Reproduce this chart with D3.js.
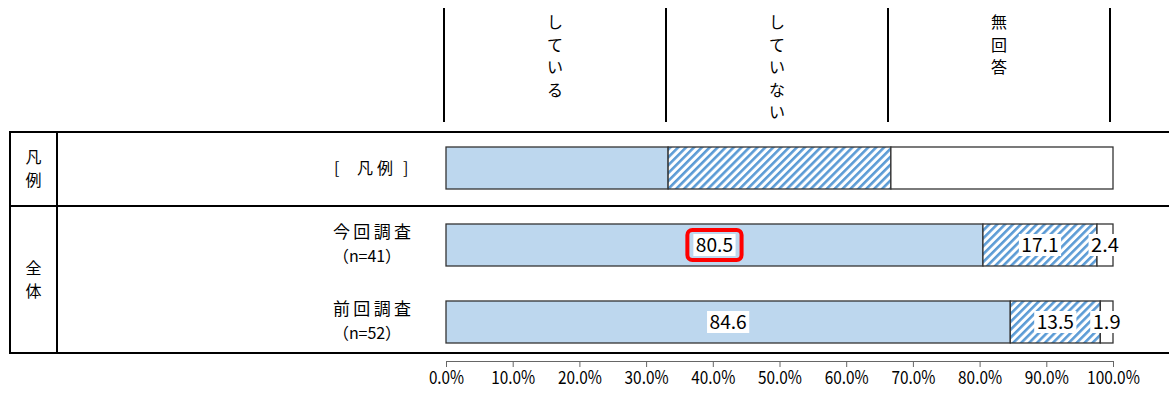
<!DOCTYPE html>
<html><head><meta charset="utf-8">
<script src="https://cdn.jsdelivr.net/npm/d3@7"></script>
<style>
html,body{margin:0;padding:0;background:#fff;}
svg{display:block;font-family:"Noto Sans CJK JP","Noto Sans",sans-serif;}
</style></head>
<body><svg id="c" width="1169" height="394"></svg>
<script>
const categories = ["している","していない","無回答"];
const rowLabels = ["今回調査","前回調査"];
const rowN = ["（n=41）","（n=52）"];
const current = [80.5, 17.1, 2.4];
const previous = [84.6, 13.5, 1.9];
const legendValues = [33.3, 33.4, 33.3];
const tickValues = [0,10,20,30,40,50,60,70,80,90,100];
const tickLabels = ["0.0%","10.0%","20.0%","30.0%","40.0%","50.0%","60.0%","70.0%","80.0%","90.0%","100.0%"];
const groupLabels = ["凡例","全体"];
const highlighted = {row:0, seg:0};

const svg = d3.select("#c");
const x = d3.scaleLinear().domain([0,100]).range([446,1113]);
const header = d3.scaleBand().domain(categories).range([444,1110]);
const rows = ["legend", ...rowLabels];
const y = d3.scalePoint().domain(rows).range([168,322]);
const barH = 42;
const fills = ["#BDD7EE","url(#hatch)","#ffffff"];

const defs = svg.append("defs");
const pat = defs.append("pattern").attr("id","hatch").attr("patternUnits","userSpaceOnUse")
  .attr("width",5.6).attr("height",5.6).attr("patternTransform","rotate(45)");
pat.append("rect").attr("width",5.6).attr("height",5.6).attr("fill","#fff");
pat.append("rect").attr("width",2.6).attr("height",5.6).attr("fill","#5B9BD5");

// header lines
const hb = [...categories.map(c=>header(c)), header.range()[1]];
svg.selectAll("line.hdr").data(hb).join("line").attr("class","hdr")
  .attr("x1",d=>d).attr("x2",d=>d).attr("y1",8).attr("y2",122)
  .attr("stroke","#000").attr("stroke-width",2);
// header vertical text
categories.forEach((c,i)=>{
  const cx = header(c)+header.bandwidth()/2;
  const t = svg.append("text").attr("font-size",16).attr("text-anchor","middle").attr("fill","#000");
  Array.from(c).forEach((ch,j)=>{
    t.append("tspan").attr("x",cx).attr("y",28+j*22.5).text(ch);
  });
});

// table
const tL = 10, tR = 1169, tTop = 132, tMid = 206, tBot = 353, tCol = 57;
[tTop,tMid,tBot].forEach(yy=>svg.append("line").attr("x1",tL).attr("x2",tR).attr("y1",yy).attr("y2",yy)
  .attr("stroke","#000").attr("stroke-width",2));
[tL,tCol].forEach(xx=>svg.append("line").attr("x1",xx).attr("x2",xx).attr("y1",tTop-1).attr("y2",tBot+1)
  .attr("stroke","#000").attr("stroke-width",2));

// group labels
[[groupLabels[0],(tTop+tMid)/2],[groupLabels[1],(tMid+tBot)/2]].forEach(([g,cy])=>{
  const t = svg.append("text").attr("font-size",16).attr("text-anchor","middle");
  Array.from(g).forEach((ch,j)=>t.append("tspan").attr("x",33.5).attr("y",cy-6+j*23).text(ch));
});

// row labels
const lt = svg.append("text").attr("y",y("legend")+6).attr("font-size",16);
lt.append("tspan").attr("x",334).text("[");
lt.append("tspan").attr("x",357).attr("textLength",36).attr("lengthAdjust","spacing").text("凡例");
lt.append("tspan").attr("x",403).text("]");
rowLabels.forEach((r,i)=>{
  svg.append("text").attr("x",333).attr("y",y(r)-7).attr("font-size",17)
    .attr("textLength",78).attr("lengthAdjust","spacing").text(r);
  svg.append("text").attr("x",333).attr("y",y(r)+17).attr("font-size",16)
    .attr("textLength",68).attr("lengthAdjust","spacing").text(rowN[i]);
});

function stack(vals){let acc=0;return vals.map((v,i)=>{const s={x0:acc,x1:acc+v,v,i};acc+=v;return s;});}

// legend bar
svg.append("g").selectAll("rect").data(stack(legendValues)).join("rect")
  .attr("x",d=>x(d.x0)).attr("width",d=>x(d.x1)-x(d.x0))
  .attr("y",y("legend")-barH/2).attr("height",barH)
  .attr("fill",d=>fills[d.i]).attr("stroke","#333").attr("stroke-width",1.3);

// data bars
[current,previous].forEach((vals,ri)=>{
  const r = rowLabels[ri];
  const segs = stack(vals);
  const g = svg.append("g");
  g.selectAll("rect").data(segs).join("rect")
    .attr("x",d=>x(d.x0)).attr("width",d=>x(d.x1)-x(d.x0))
    .attr("y",y(r)-barH/2).attr("height",barH)
    .attr("fill",d=>fills[d.i]).attr("stroke","#333").attr("stroke-width",1.3);
  segs.forEach(d=>{
    const cx = (x(d.x0)+x(d.x1))/2, cy = y(r);
    const label = d.v.toFixed(1);
    const tw = label.length*9.3;
    const w = tw+5;
    g.append("rect").attr("x",cx-w/2).attr("y",cy-11).attr("width",w).attr("height",22).attr("fill","#fff");
    g.append("text").attr("x",cx).attr("y",cy+7).attr("text-anchor","middle").attr("font-size",19)
      .attr("textLength",tw).attr("lengthAdjust","spacingAndGlyphs").attr("fill","#000").text(label);
    if(ri===highlighted.row && d.i===highlighted.seg){
      g.append("rect").attr("x",cx-w/2-6).attr("y",cy-15).attr("width",w+12).attr("height",30)
        .attr("rx",5).attr("fill","none").attr("stroke","#FF0000").attr("stroke-width",4);
    }
  });
});

// axis
const axis = d3.axisBottom(x).tickValues(tickValues).tickSize(6).tickFormat((d,i)=>tickLabels[i]);
const ag = svg.append("g").attr("transform","translate(0,361)").call(axis);
ag.select(".domain").attr("stroke","#666");
ag.selectAll(".tick line").attr("stroke","#666");
ag.selectAll(".tick text").attr("font-size",18).attr("fill","#000").attr("dy","0.75em")
  .attr("font-family",'"Noto Sans CJK JP",sans-serif')
  .attr("textLength",(d,i)=>tickLabels[i].length*8.8).attr("lengthAdjust","spacingAndGlyphs");
</script></body></html>
